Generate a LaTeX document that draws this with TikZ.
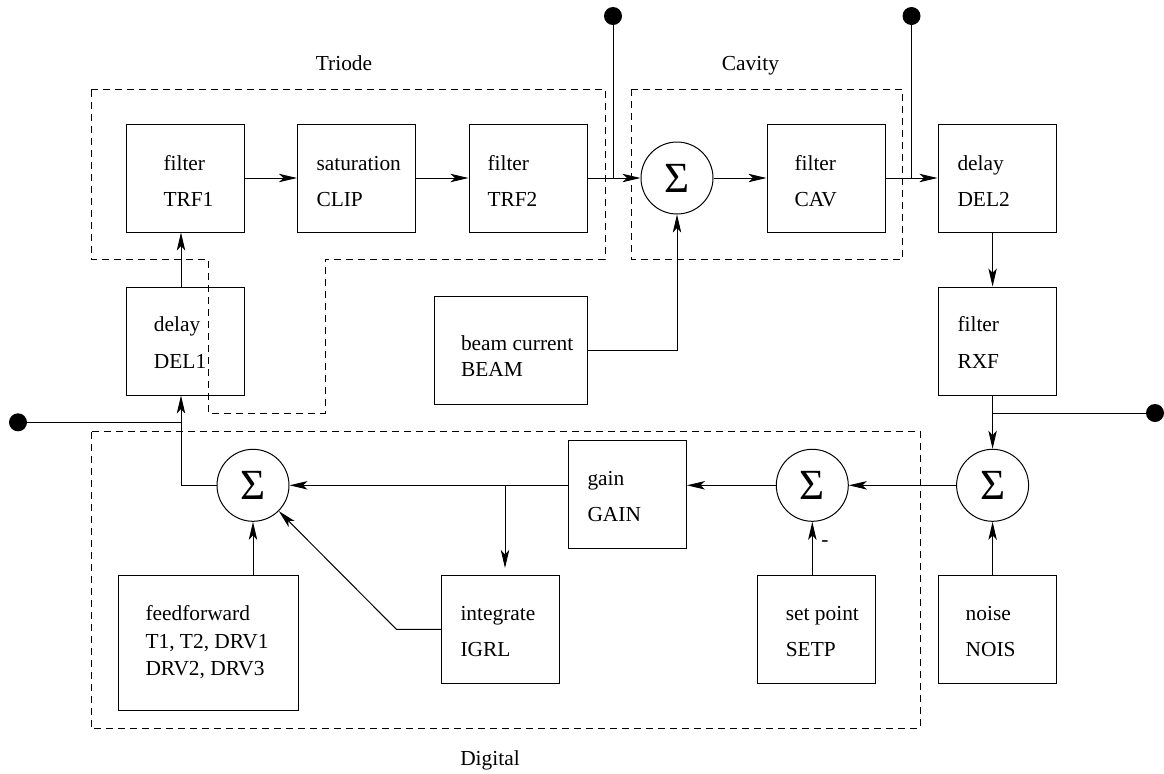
\documentclass[tikz,border=0pt]{standalone}
\usepackage{fontspec}
\setmainfont{Liberation Serif}
\usetikzlibrary{arrows.meta,calc}
\begin{document}
\begin{tikzpicture}[x=0.5pt,y=-0.5pt,
  line width=0.5pt,
  blk/.style={draw,rectangle,inner sep=0pt,minimum width=59pt,minimum height=54pt},
  sumnode/.style={draw,circle,inner sep=0pt,minimum size=36pt,font=\fontsize{21.5}{22}\selectfont},
  txt/.style={anchor=base west,inner sep=0pt,font=\fontsize{10.7}{12}\selectfont},
  lbl/.style={anchor=base,inner sep=0pt,font=\fontsize{10.7}{12}\selectfont},
  arr/.style={-{Stealth[length=9pt,width=4.2pt,inset=2.2pt]}},
  grp/.style={dash pattern=on 3.5pt off 2.5pt},
  term/.style={fill,circle,inner sep=0pt,minimum size=9pt}]
\useasboundingbox (0,0) rectangle (1164,773);

% group outlines
\draw[grp] (91,89) -- (605,89) -- (605,259) -- (325,259) -- (325,413) -- (208,413) -- (208,259) -- (91,259) -- cycle;
\draw[grp] (631,89) rectangle (902.5,259);
\draw[grp] (91,431.7) rectangle (920.5,728.3);
\node[lbl] (lTriode) at (344,70.3) {Triode};
\node[lbl] (lCavity) at (750.5,70.3) {Cavity};
\node[lbl] (lDigital) at (490,765) {Digital};

% blocks
\node[blk] (TRF1) at (185,178) {};
\node[blk] (CLIP) at (356.5,178) {};
\node[blk] (TRF2) at (528,178) {};
\node[blk] (CAV) at (826,178) {};
\node[blk] (DEL2) at (997,178) {};
\node[blk] (DEL1) at (185,341) {};
\node[blk] (RXF) at (997,341) {};
\node[blk,minimum width=76.5pt] (BEAM) at (510.5,350) {};
\node[blk] (GAIN) at (627.4,494.3) {};
\node[blk,minimum width=90pt,minimum height=67.5pt] (FF) at (208,643.2) {};
\node[blk] (IGRL) at (500.5,629.5) {};
\node[blk] (SETP) at (816.8,629.5) {};
\node[blk] (NOIS) at (997,629.5) {};

% summing junctions
\node[sumnode] (S1) at (677,178) {Σ};
\node[sumnode] (S2) at (253,485.3) {Σ};
\node[sumnode] (S3) at (812.3,485.3) {Σ};
\node[sumnode] (S4) at (992.6,485.3) {Σ};

% block texts
\node[txt] (tTRF1a) at (163,170.7) {filter};
\node[txt] (tTRF1b) at (163,206.7) {TRF1};
\node[txt] (tCLIPa) at (316,170.7) {saturation};
\node[txt] (tCLIPb) at (316,206.7) {CLIP};
\node[txt] (tTRF2a) at (487,170.7) {filter};
\node[txt] (tTRF2b) at (487,206.7) {TRF2};
\node[txt] (tCAVa) at (794,170.7) {filter};
\node[txt] (tCAVb) at (794,206.7) {CAV};
\node[txt] (tDEL2a) at (957,170.7) {delay};
\node[txt] (tDEL2b) at (957,206.7) {DEL2};
\node[txt] (tDEL1a) at (153.4,331.7) {delay};
\node[txt] (tDEL1b) at (153.4,368.3) {DEL1};
\node[txt] (tRXFa) at (957,331.7) {filter};
\node[txt] (tRXFb) at (957,368.3) {RXF};
\node[txt] (tBEAMa) at (460.5,350) {beam current};
\node[txt] (tBEAMb) at (460.5,376.7) {BEAM};
\node[txt] (tGAINa) at (587,485.7) {gain};
\node[txt] (tGAINb) at (587,521) {GAIN};
\node[txt] (tFFa) at (145,620.7) {feedforward};
\node[txt] (tFFb) at (145,648.3) {T1, T2, DRV1};
\node[txt] (tFFc) at (145,675) {DRV2, DRV3};
\node[txt] (tIGRLa) at (460,620.7) {integrate};
\node[txt] (tIGRLb) at (460,656.7) {IGRL};
\node[txt] (tSETPa) at (785.3,620.7) {set point};
\node[txt] (tSETPb) at (785.3,656.7) {SETP};
\node[txt] (tNOISa) at (965.2,620.7) {noise};
\node[txt] (tNOISb) at (965.2,656.7) {NOIS};
\node[lbl] (minus) at (825,546) {-};

% terminals
\node[term] (d1) at (613,16) {};
\node[term] (d2) at (911.5,16) {};
\node[term] (d3) at (18,422.3) {};
\node[term] (d4) at (1155,413) {};
\coordinate (c1) at (181,485.3);
\coordinate (br) at (505,485.3);
\coordinate (j4) at (992.6,413);

% forward path
\draw[arr] (TRF1.east) -- (CLIP.west);
\draw[arr] (CLIP.east) -- (TRF2.west);
\draw[arr] (TRF2.east) -- (S1.west);
\draw (d1.center) -- (d1.center |- S1.west);
\draw[arr] (S1.east) -- (CAV.west);
\draw[arr] (CAV.east) -- (DEL2.west);
\draw (d2.center) -- (d2.center |- CAV.east);
\draw[arr] (S4 |- DEL2.south) -- (S4 |- RXF.north);
\draw[arr] (S4 |- RXF.south) -- (S4.north);
\draw (j4) -- (d4.center);
\draw[arr] (S4 |- NOIS.north) -- (S4.south);
\draw[arr] (S4.west) -- (S3.east);
\draw[arr] (S3 |- SETP.north) -- (S3.south);
\draw[arr] (S3.west) -- (GAIN.east |- S3);
\draw[arr] (GAIN.west |- S2) -- (S2.east);
\draw[arr,shorten >=3.5pt] (br) -- (br |- IGRL.north);
\draw[arr] (IGRL.west |- 0,629.3) -- (396.4,629.3) -- (S2.south east);
\draw[arr] (S2 |- FF.north) -- (S2.south);
\draw[arr] (S2.west) -- (c1) -- (c1 |- DEL1.south);
\draw (d3.center) -- (c1 |- d3.center);
\draw[arr] (c1 |- DEL1.north) -- (c1 |- TRF1.south);
\draw[arr] (BEAM.east) -- (S1 |- BEAM.east) -- (S1.south);
\end{tikzpicture}
\end{document}
